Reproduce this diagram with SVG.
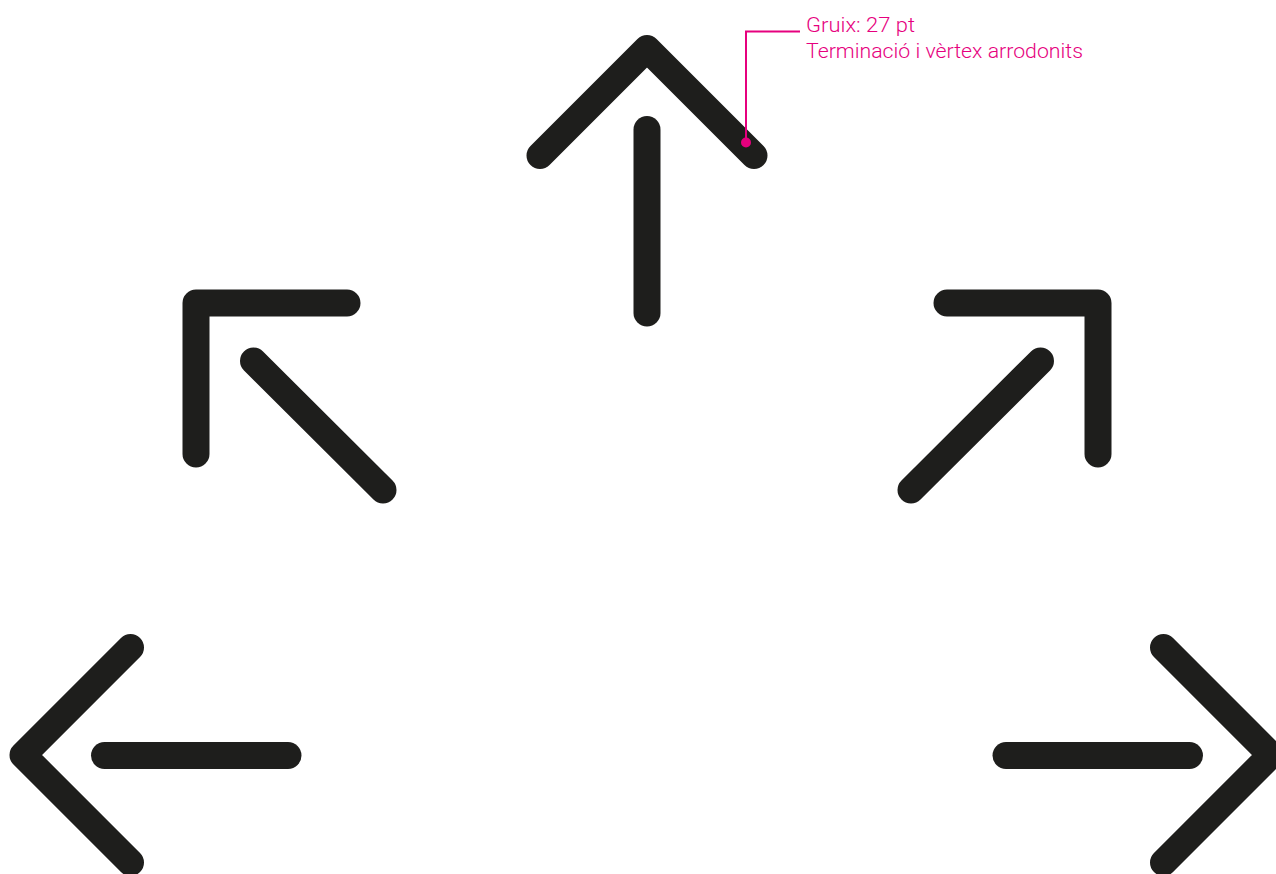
<svg xmlns="http://www.w3.org/2000/svg" width="1276" height="874" viewBox="0 0 1276 874">
<style>
.s{fill:none;stroke:#1e1e1c;stroke-width:27;stroke-linecap:round;stroke-linejoin:round}
.a{fill:none;stroke:#e6007e;stroke-width:2}
.t{font-family:Roboto,"Liberation Sans",sans-serif;font-size:21px;font-weight:300;fill:#e6007e}
</style>
<rect width="1276" height="874" fill="#ffffff"/>
<g id="arrow-up">
<polyline class="s" points="540,155.5 647,48.5 754,155.5"/>
<line class="s" x1="647" y1="129.5" x2="647" y2="313"/>
</g>
<g id="arrow-up-left">
<polyline class="s" points="196,454 196,303 347,303"/>
<line class="s" x1="253.5" y1="361" x2="383" y2="490"/>
</g>
<g id="arrow-up-right">
<polyline class="s" points="947,303 1098,303 1098,454"/>
<line class="s" x1="1040.5" y1="361" x2="911" y2="490"/>
</g>
<g id="arrow-left">
<polyline class="s" points="130.5,647.5 23,755 130.5,862.5"/>
<line class="s" x1="104.5" y1="755.5" x2="288" y2="755.5"/>
</g>
<g id="arrow-right">
<polyline class="s" points="1163.5,647.5 1271,755 1163.5,862.5"/>
<line class="s" x1="1006" y1="755.5" x2="1189.5" y2="755.5"/>
</g>
<g id="connectors">
<polyline class="a" points="746,142 746,31.5 800,31.5"/>
<circle cx="746" cy="142.5" r="5" fill="#e6007e"/>
</g>
<g id="annotation">
<text class="t" x="806" y="31.5" textLength="109" lengthAdjust="spacingAndGlyphs">Gruix: 27 pt</text>
<text class="t" x="806" y="57.5" textLength="277" lengthAdjust="spacingAndGlyphs">Terminació i vèrtex arrodonits</text>
</g>
</svg>
